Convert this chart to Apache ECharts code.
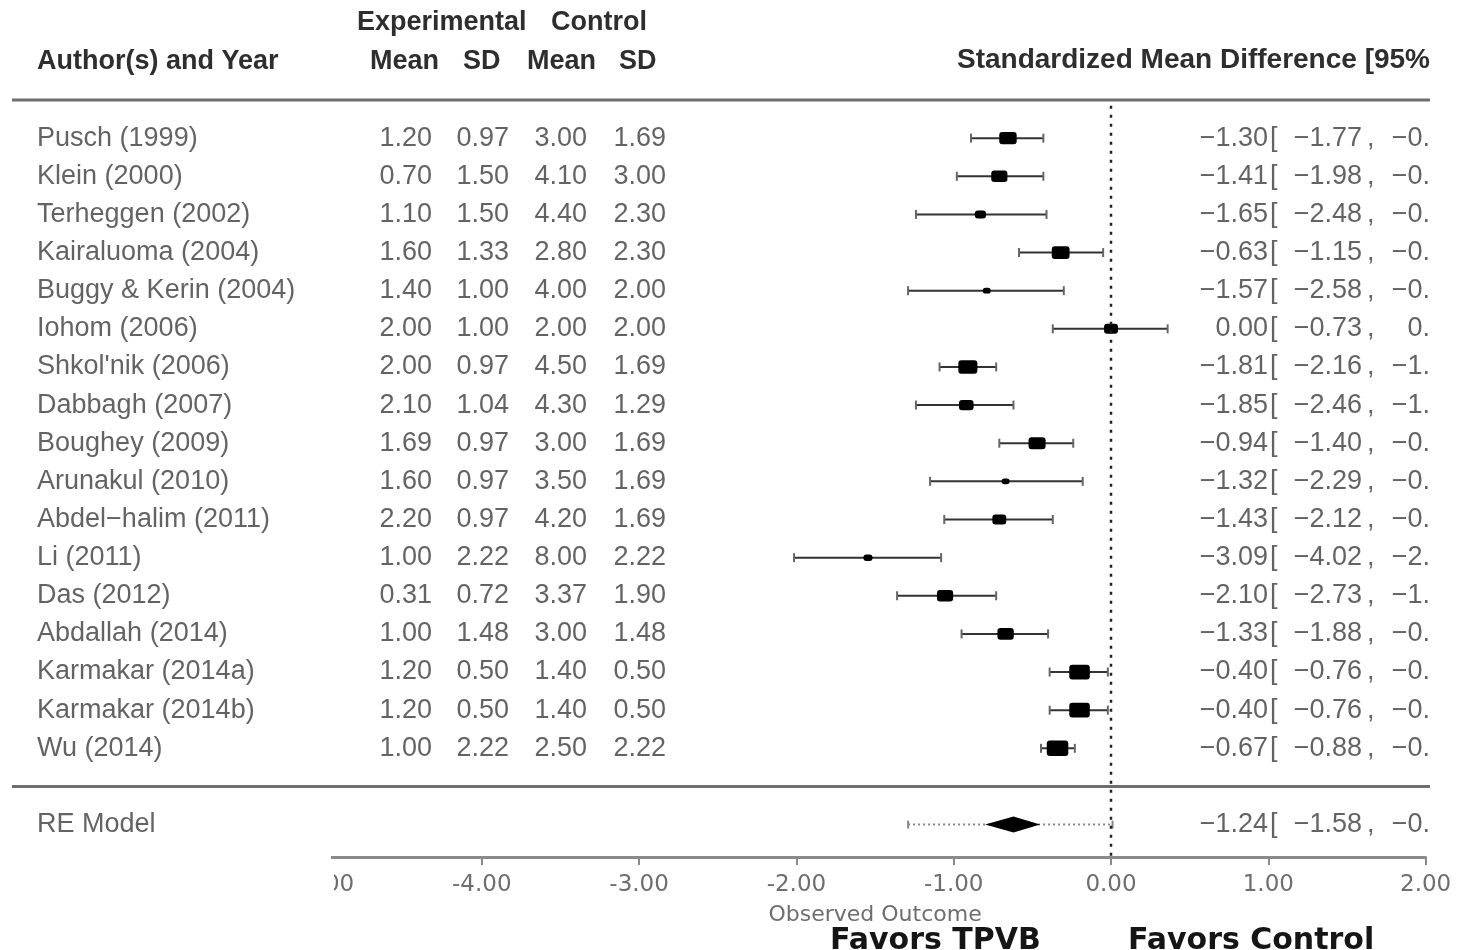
<!DOCTYPE html>
<html>
<head>
<meta charset="utf-8">
<script src="https://cdn.jsdelivr.net/npm/echarts@6/dist/echarts.min.js"></script>
<style>
html,body{margin:0;padding:0;background:#fff;}
#chart{width:1474px;height:950px;}
</style>
</head>
<body>
<div id="chart"></div>
<script>
// ---------- data ----------
const studies = ['Pusch (1999)', 'Klein (2000)', 'Terheggen (2002)', 'Kairaluoma (2004)', 'Buggy & Kerin (2004)',
  'Iohom (2006)', "Shkol'nik (2006)", 'Dabbagh (2007)', 'Boughey (2009)', 'Arunakul (2010)',
  'Abdel\u2212halim (2011)', 'Li (2011)', 'Das (2012)', 'Abdallah (2014)', 'Karmakar (2014a)',
  'Karmakar (2014b)', 'Wu (2014)'];
const expMean = [1.20, 0.70, 1.10, 1.60, 1.40, 2.00, 2.00, 2.10, 1.69, 1.60, 2.20, 1.00, 0.31, 1.00, 1.20, 1.20, 1.00];
const expSD   = [0.97, 1.50, 1.50, 1.33, 1.00, 1.00, 0.97, 1.04, 0.97, 0.97, 0.97, 2.22, 0.72, 1.48, 0.50, 0.50, 2.22];
const ctlMean = [3.00, 4.10, 4.40, 2.80, 4.00, 2.00, 4.50, 4.30, 3.00, 3.50, 4.20, 8.00, 3.37, 3.00, 1.40, 1.40, 2.50];
const ctlSD   = [1.69, 3.00, 2.30, 2.30, 2.00, 2.00, 1.69, 1.29, 1.69, 1.69, 1.69, 2.22, 1.90, 1.48, 0.50, 0.50, 2.22];
// printed SMD column (as shown, upper bound truncated in the picture)
const smdText   = [-1.30, -1.41, -1.65, -0.63, -1.57, 0.00, -1.81, -1.85, -0.94, -1.32, -1.43, -3.09, -2.10, -1.33, -0.40, -0.40, -0.67];
const ciLowText = [-1.77, -1.98, -2.48, -1.15, -2.58, -0.73, -2.16, -2.46, -1.40, -2.29, -2.12, -4.02, -2.73, -1.88, -0.76, -0.76, -0.88];
const ciUpText  = ['\u22120.', '\u22120.', '\u22120.', '\u22120.', '\u22120.', '0.', '\u22121.', '\u22121.', '\u22120.', '\u22120.',
  '\u22120.', '\u22122.', '\u22121.', '\u22120.', '\u22120.', '\u22120.', '\u22120.'];
// plotted positions on the drawn axis
const plotEst = [-0.655, -0.71, -0.83, -0.32, -0.79, 0.00, -0.91, -0.92, -0.47, -0.67, -0.71, -1.545, -1.055, -0.67, -0.20, -0.20, -0.34];
const plotLo  = [-0.89, -0.98, -1.24, -0.585, -1.29, -0.37, -1.09, -1.24, -0.71, -1.15, -1.06, -2.015, -1.36, -0.95, -0.39, -0.39, -0.445];
const plotHi  = [-0.43, -0.43, -0.41, -0.05, -0.30, 0.36, -0.73, -0.62, -0.24, -0.18, -0.37, -1.08, -0.73, -0.40, -0.02, -0.02, -0.23];
const weightPct = [6.6, 5.7, 2.7, 6.9, 1.4, 4.2, 7.9, 4.6, 6.3, 1.4, 4.2, 1.8, 5.7, 5.8, 9.2, 9.2, 10.1];
// RE model
const reLabel = 'RE Model';
const reText = [-1.24, -1.58, '\u22120.'];
const rePlot = [-0.62, -0.80, -0.45];   // estimate, lower, upper
const rePI = [-1.29, 0.01];             // prediction interval on drawn axis
// axis
const xTicks = [-5, -4, -3, -2, -1, 0, 1, 2];

// ---------- helpers ----------
const fmt = v => (v < 0 ? '\u2212' : '') + Math.abs(v).toFixed(2);
const TXT = '#3c3c3c';
const HDR = '#2e2e2e';
const FONT = 'Liberation Sans';
const FS = 27;
const YMAX = 19.85;
const RE_ROW = studies.length + 2;

function col(values, x, side, formatter) {
  return {
    type: 'scatter', xAxisIndex: 1, yAxisIndex: 1, silent: true,
    symbolSize: 0.1, itemStyle: { color: 'rgba(0,0,0,0)' },
    data: values.map((v, i) => [x, i + 1, v]),
    label: {
      show: true, position: side, distance: 0,
      formatter: p => formatter(p.value[2]),
      color: TXT, fontSize: FS, fontFamily: FONT
    }
  };
}
function single(x, row, text, side) {
  return {
    type: 'scatter', xAxisIndex: 1, yAxisIndex: 1, silent: true,
    symbolSize: 0.1, itemStyle: { color: 'rgba(0,0,0,0)' },
    data: [[x, row, text]],
    label: { show: true, position: side, distance: 0, formatter: p => p.value[2],
      color: TXT, fontSize: FS, fontFamily: FONT }
  };
}
function hdr(text, x, y, align, size) {
  return { type: 'text', x: x, y: y, style: { text: text, fontSize: size || FS, fontWeight: 'bold', fontFamily: FONT,
    fill: HDR, textAlign: align || 'left', align: align || 'left', textVerticalAlign: 'middle', verticalAlign: 'middle' } };
}

const forestData = studies.map((s, i) => [plotEst[i], plotLo[i], plotHi[i], i + 1, weightPct[i]]);

const chart = echarts.init(document.getElementById('chart'));
const option = {
  backgroundColor: '#fff',
  animation: false,
  grid: [
    { left: 324.5, right: 48.4, top: 100, height: 757 },
    { left: 0, right: 0, top: 100, height: 757 }
  ],
  xAxis: [
    {
      gridIndex: 0, type: 'value', min: -5, max: 2, interval: 1,
      splitLine: { show: false },
      axisLine: { show: true, onZero: false, lineStyle: { color: '#8a8a8a', width: 3 } },
      axisTick: { show: true, length: 8, lineStyle: { color: '#8a8a8a', width: 2 } },
      axisLabel: { margin: 17, color: '#6e6e6e', fontSize: 23, fontFamily: 'DejaVu Sans',
        formatter: v => (v < 0 ? '-' : '') + Math.abs(v).toFixed(2) },
      name: 'Observed Outcome', nameLocation: 'middle', nameGap: 47,
      nameTextStyle: { color: '#6e6e6e', fontSize: 22, fontFamily: 'DejaVu Sans' }
    },
    { gridIndex: 1, type: 'value', min: 0, max: 1474, show: false }
  ],
  yAxis: [
    { gridIndex: 0, type: 'value', min: 0, max: YMAX, inverse: true, show: false },
    { gridIndex: 1, type: 'value', min: 0, max: YMAX, inverse: true, show: false }
  ],
  graphic: [
    hdr('Experimental', 357, 23),
    hdr('Control', 551, 23),
    hdr('Author(s) and Year', 37, 62),
    hdr('Mean', 370, 62),
    hdr('SD', 463, 62),
    hdr('Mean', 527, 62),
    hdr('SD', 619, 62),
    hdr('Standardized Mean Difference [95%', 1430, 60, 'right', 28),
    { type: 'text', x: 830, y: 941, style: { text: 'Favors TPVB', fontSize: 30, fontWeight: 'bold', fontFamily: 'DejaVu Sans', fill: '#151515', textVerticalAlign: 'middle', verticalAlign: 'middle' } },
    { type: 'text', x: 1128, y: 941, style: { text: 'Favors Control', fontSize: 30, fontWeight: 'bold', fontFamily: 'DejaVu Sans', fill: '#151515', textVerticalAlign: 'middle', verticalAlign: 'middle' } },
    { type: 'rect', z: 100, shape: { x: 0, y: 851, width: 331, height: 22 }, style: { fill: '#fff' } },
    { type: 'rect', z: 100, shape: { x: 0, y: 873, width: 334, height: 30 }, style: { fill: '#fff' } }
  ],
  series: [
    // horizontal rules
    { type: 'line', xAxisIndex: 1, yAxisIndex: 1, silent: true, clip: false, symbol: 'none',
      data: [[12, 0], [1430, 0]], lineStyle: { color: '#6e6e6e', width: 3 } },
    { type: 'line', xAxisIndex: 1, yAxisIndex: 1, silent: true, clip: false, symbol: 'none',
      data: [[12, studies.length + 1], [1430, studies.length + 1]], lineStyle: { color: '#6e6e6e', width: 3 } },
    // zero reference line
    { type: 'line', xAxisIndex: 0, yAxisIndex: 0, silent: true, clip: false, symbol: 'none',
      data: [[0, 0.15], [0, YMAX]], lineStyle: { color: '#222', width: 2.5, type: [3, 6] } },
    // study estimates
    {
      type: 'custom', xAxisIndex: 0, yAxisIndex: 0, silent: true, clip: false,
      data: forestData,
      encode: { x: [0, 1, 2], y: 3 },
      renderItem: function (params, api) {
        const row = api.value(3);
        const pe = api.coord([api.value(0), row]);
        const pl = api.coord([api.value(1), row]);
        const ph = api.coord([api.value(2), row]);
        const w = Math.sqrt(api.value(4) * 46);
        const h = w / 1.4;
        return {
          type: 'group', children: [
            { type: 'line', shape: { x1: pl[0], y1: pl[1], x2: ph[0], y2: ph[1] }, style: { stroke: '#333', lineWidth: 2 } },
            { type: 'line', shape: { x1: pl[0], y1: pl[1] - 4.5, x2: pl[0], y2: pl[1] + 4.5 }, style: { stroke: '#666', lineWidth: 2 } },
            { type: 'line', shape: { x1: ph[0], y1: ph[1] - 4.5, x2: ph[0], y2: ph[1] + 4.5 }, style: { stroke: '#666', lineWidth: 2 } },
            { type: 'rect', shape: { x: pe[0] - w / 2, y: pe[1] - h / 2, width: w, height: h, r: 3 }, style: { fill: '#000' } }
          ]
        };
      }
    },
    // RE model
    {
      type: 'custom', xAxisIndex: 0, yAxisIndex: 0, silent: true, clip: false,
      data: [[rePlot[0], rePlot[1], rePlot[2], RE_ROW, rePI[0], rePI[1]]],
      encode: { x: [0, 1, 2], y: 3 },
      renderItem: function (params, api) {
        const row = api.value(3);
        const pe = api.coord([api.value(0), row]);
        const pl = api.coord([api.value(1), row]);
        const ph = api.coord([api.value(2), row]);
        const a = api.coord([api.value(4), row]);
        const b = api.coord([api.value(5), row]);
        return {
          type: 'group', children: [
            { type: 'line', shape: { x1: a[0], y1: a[1], x2: b[0], y2: b[1] }, style: { stroke: '#888', lineWidth: 2, lineDash: [2, 3] } },
            { type: 'line', shape: { x1: a[0], y1: a[1] - 4, x2: a[0], y2: a[1] + 4 }, style: { stroke: '#888', lineWidth: 2 } },
            { type: 'line', shape: { x1: b[0], y1: b[1] - 4, x2: b[0], y2: b[1] + 4 }, style: { stroke: '#888', lineWidth: 2 } },
            { type: 'polygon', shape: { points: [[pl[0], pl[1]], [pe[0], pe[1] - 8], [ph[0], ph[1]], [pe[0], pe[1] + 8]] }, style: { fill: '#000' } }
          ]
        };
      }
    },
    // table columns
    col(studies, 37, 'right', v => v),
    col(expMean, 432, 'left', v => v.toFixed(2)),
    col(expSD, 509, 'left', v => v.toFixed(2)),
    col(ctlMean, 587, 'left', v => v.toFixed(2)),
    col(ctlSD, 666, 'left', v => v.toFixed(2)),
    col(smdText, 1268, 'left', v => fmt(v)),
    col(smdText, 1270, 'right', v => '['),
    col(ciLowText, 1362, 'left', v => fmt(v)),
    col(ciLowText, 1367, 'right', v => ','),
    col(ciUpText, 1430, 'left', v => v),
    // RE row text
    single(37, RE_ROW, reLabel, 'right'),
    single(1268, RE_ROW, fmt(reText[0]), 'left'),
    single(1270, RE_ROW, '[', 'right'),
    single(1362, RE_ROW, fmt(reText[1]), 'left'),
    single(1367, RE_ROW, ',', 'right'),
    single(1430, RE_ROW, reText[2], 'left')
  ]
};
chart.setOption(option);
</script>
</body>
</html>
